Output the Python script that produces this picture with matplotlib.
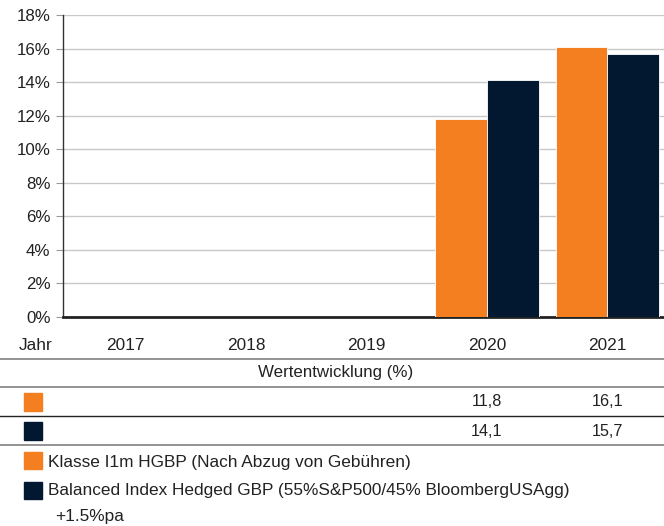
import matplotlib
matplotlib.use("Agg")
import matplotlib.pyplot as plt
from matplotlib.patches import Rectangle
from matplotlib.lines import Line2D
import numpy as np

plt.rcParams['font.family'] = ['Liberation Sans', 'DejaVu Sans']

years = ["2017", "2018", "2019", "2020", "2021"]
fund = [None, None, None, 11.8, 16.1]
index = [None, None, None, 14.1, 15.7]
fund_label = "Klasse I1m HGBP (Nach Abzug von Gebühren)"
index_label_1 = "Balanced Index Hedged GBP (55%S&P500/45% BloombergUSAgg)"
index_label_2 = "+1.5%pa"
yticks = [0, 2, 4, 6, 8, 10, 12, 14, 16, 18]
table_title = "Wertentwicklung (%)"
year_header = "Jahr"

ORANGE = "#F47F20"
NAVY = "#021730"
TXT = "#222222"
W, H = 664, 526
FS = 12.4

fig = plt.figure(figsize=(W / 100, H / 100), dpi=100)
ax = fig.add_axes([63 / W, 1 - 317 / H, (664 - 63) / W, (317 - 15) / H])

x = np.arange(len(years))
bw = 0.43
fx = [xi for xi, v in zip(x, fund) if v is not None]
fv = [v for v in fund if v is not None]
ix = [xi for xi, v in zip(x, index) if v is not None]
iv = [v for v in index if v is not None]
ax.bar(np.array(fx) - bw / 2, fv, width=bw, color=ORANGE, edgecolor="white", linewidth=0.6, zorder=3)
ax.bar(np.array(ix) + bw / 2, iv, width=bw, color=NAVY, edgecolor="white", linewidth=0.6, zorder=3)

ax.set_xlim(-0.52, 4.47)
ax.set_ylim(0, 18)
ax.set_yticks(yticks)
ax.set_yticklabels([f"{t}%" for t in yticks], fontsize=12.2, color=TXT)
ax.set_xticks([])
ax.yaxis.grid(True, color="#c8c8c8", linewidth=1.0, zorder=0)
ax.set_axisbelow(True)
for s in ["top", "right"]:
    ax.spines[s].set_visible(False)
ax.spines["left"].set_color("#333333")
ax.spines["left"].set_linewidth(1.0)
ax.spines["bottom"].set_color("#222222")
ax.spines["bottom"].set_linewidth(2.0)
ax.tick_params(axis="y", length=5, width=0.8, color="#999999", pad=4)


def fy(py):
    return 1 - py / H


def data_x_to_fig(xd):
    disp = ax.transData.transform((xd, 0))
    return fig.transFigure.inverted().transform(disp)[0]


# Year header row
fig.text(36 / W, fy(345), year_header, ha="center", va="center", fontsize=FS, color=TXT)
for xi, yr in zip(x, years):
    fig.text(data_x_to_fig(xi), fy(345), yr, ha="center", va="center", fontsize=FS, color=TXT)

# Table lines
for py, col, lw in [(359, "#8a8a8a", 1.3), (387, "#8a8a8a", 1.3), (416, "#222222", 1.0), (445, "#8a8a8a", 1.3)]:
    fig.add_artist(Line2D([0, 1], [fy(py), fy(py)], color=col, linewidth=lw, transform=fig.transFigure))

fig.text(0.505, fy(373), table_title, ha="center", va="center", fontsize=12.2, color=TXT)

# Value rows
for row_y, vals, col in [(402, fund, ORANGE), (431, index, NAVY)]:
    fig.add_artist(Rectangle((24 / W, fy(row_y + 9)), 18 / W, 18 / H, color=col, transform=fig.transFigure))
    for xi, v in zip(x, vals):
        if v is not None:
            fig.text(data_x_to_fig(xi), fy(row_y), f"{v:.1f}".replace(".", ","), ha="center", va="center",
                     fontsize=11.6, color=TXT)

# Legend
fig.add_artist(Rectangle((24 / W, fy(469)), 18 / W, 17 / H, color=ORANGE, transform=fig.transFigure))
fig.text(48 / W, fy(462), fund_label, ha="left", va="center", fontsize=FS, color=TXT)
fig.add_artist(Rectangle((24 / W, fy(499)), 18 / W, 17 / H, color=NAVY, transform=fig.transFigure))
fig.text(48 / W, fy(491), index_label_1, ha="left", va="center", fontsize=FS, color=TXT)
fig.text(55 / W, fy(516), index_label_2, ha="left", va="center", fontsize=FS, color=TXT)

fig.savefig("out.png", dpi=100)
